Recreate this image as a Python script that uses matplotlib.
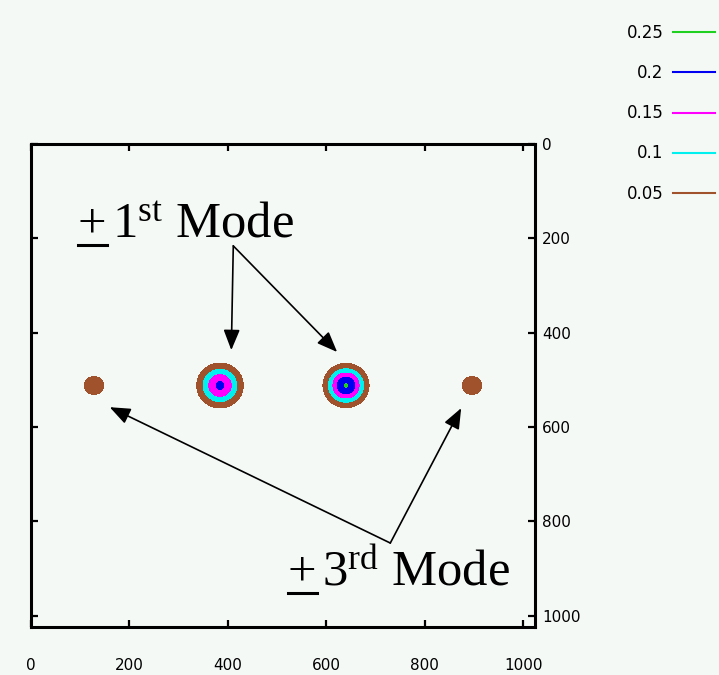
import matplotlib.pyplot as plt
import numpy as np
from matplotlib.lines import Line2D

plt.rcParams['mathtext.fontset'] = 'custom'
plt.rcParams['mathtext.rm'] = 'Liberation Serif'
plt.rcParams['mathtext.it'] = 'Liberation Serif:italic'

# detector frame, 1024 x 1024 pixels
frame = 1024

# diffraction spots: centre, peak intensity and gaussian width (x / y)
spot_x = [128, 384, 640, 896]
spot_y = [512, 512, 512, 512]
spot_peak = [0.06, 0.208, 0.252, 0.06]
spot_wx = [33, 28, 26, 33]
spot_wy = [31, 28, 26, 31]

levels = [0.05, 0.1, 0.15, 0.2, 0.25]
level_labels = ['0.05', '0.1', '0.15', '0.2', '0.25']
level_colors = ['#a0522d', '#00f0f0', '#ff00ff', '#0000f0', '#20d020']

ticks = [0, 200, 400, 600, 800, 1000]

bg = '#f5f9f6'
W, H = 719, 675

# intensity map built from the spots
x = np.arange(frame)
X, Y = np.meshgrid(x, x)
Z = np.zeros_like(X, dtype=float)
for cx, cy, a, wx, wy in zip(spot_x, spot_y, spot_peak, spot_wx, spot_wy):
    r2 = ((X - cx) / wx) ** 2 + ((Y - cy) / wy) ** 2
    Z += a * np.exp(-r2 / 2)

fig = plt.figure(figsize=(7.19, 6.75), dpi=100, facecolor=bg)
# Left, Bottom, Width, Height
ax = fig.add_axes([31 / W, 1 - 627 / H, 504 / W, 483 / H])
ax.set_facecolor(bg)

ax.contourf(X, Y, Z, levels=levels + [1.0], colors=level_colors)

ax.set_xlim(0, frame)
ax.set_ylim(frame, 0)
ax.set_xticks(ticks)
ax.set_yticks(ticks)
for s in ax.spines.values():
    s.set_linewidth(2.2)
ax.tick_params(direction='in', length=5, width=1.6, top=True, bottom=True,
               left=True, right=True, labelleft=False, labelright=True,
               labelsize=11)
ax.tick_params(axis='x', pad=22)
ax.tick_params(axis='y', pad=5)

# legend of contour levels, highest first
handles = [Line2D([], [], color=c, lw=1.5) for c in level_colors[::-1]]
fig.legend(handles, level_labels[::-1], loc='upper right',
           bbox_to_anchor=(715 / W, 1 - 24 / H), frameon=False,
           markerfirst=False, fontsize=12, handlelength=2.5,
           handletextpad=0.6, labelspacing=1.33, borderpad=0,
           borderaxespad=0)

# arrows pointing from the labels to the spots
arrow = dict(arrowstyle='-|>,head_length=0.5,head_width=0.2', color='k',
             lw=1.2, mutation_scale=25, shrinkA=0, shrinkB=0)
ax.annotate('', xy=(407, 437), xytext=(411, 216), arrowprops=arrow)
ax.annotate('', xy=(622, 441), xytext=(411, 216), arrowprops=arrow)
ax.annotate('', xy=(160, 558), xytext=(730, 846), arrowprops=arrow)
ax.annotate('', xy=(874, 560), xytext=(730, 846), arrowprops=arrow)

renderer = fig.canvas.get_renderer()


def mode_label(px, py, order, sup):
    # underlined plus sign, then the order number with its superscript
    plus = fig.text(px / W, 1 - py / H, '+', fontsize=36.5,
                    family='Liberation Serif', va='baseline')
    bb = plus.get_window_extent(renderer)
    fig.add_artist(Line2D([bb.x0 / W, bb.x1 / W], [1 - (py + 8) / H] * 2,
                          color='k', lw=2.2))
    fig.text((bb.x1 + 5) / W, 1 - py / H,
             r'$%s^{\mathrm{%s}}$ Mode' % (order, sup), fontsize=36.5,
             family='Liberation Serif', va='baseline')


mode_label(78, 237, '1', 'st')
mode_label(288, 585, '3', 'rd')

fig.savefig('out.png', dpi=100, facecolor=bg)
